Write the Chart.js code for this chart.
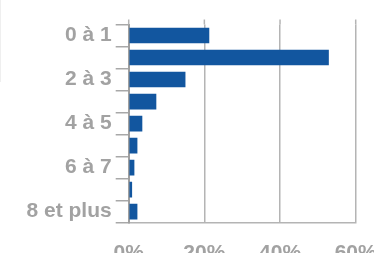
<!DOCTYPE html>
<html>
<head>
<meta charset="utf-8">
<script src="https://cdn.jsdelivr.net/npm/chart.js@4"></script>
<style>
    html, body { margin: 0; padding: 0; background: #fff; overflow: hidden; }
    #wrap { position: relative; width: 374px; height: 253px; }
    #edge { position: absolute; left: 0; top: 0; width: 1px; height: 82px; background: #efefef; }
</style>
</head>
<body>
<div id="wrap">
    <canvas id="chart" width="374" height="253"></canvas>
    <div id="edge"></div>
</div>
<script>
// Data
const categories = ['0 à 1', '1 à 2', '2 à 3', '3 à 4', '4 à 5', '5 à 6', '6 à 7', '7 à 8', '8 et plus'];
const shares = [21.3, 52.9, 15.0, 7.3, 3.6, 2.3, 1.5, 0.9, 2.3];
const xTicks = [0, 20, 40, 60];

const labelGray = '#a2a2a2';
const lineGray = '#b4b4b4';
const font = { family: '"Liberation Sans", Arial, sans-serif', size: 21, weight: 'bold' };

// vertical grid lines poke a little above the plot
const gridTopPlugin = {
    id: 'gridTop',
    beforeDatasetsDraw(chart) {
        const { ctx, chartArea, scales } = chart;
        ctx.save();
        ctx.strokeStyle = lineGray;
        ctx.lineWidth = 1.5;
        xTicks.forEach(v => {
            const x = scales.x.getPixelForValue(v);
            ctx.beginPath();
            ctx.moveTo(x, chartArea.top - 5);
            ctx.lineTo(x, chartArea.top);
            ctx.stroke();
        });
        ctx.restore();
    }
};

new Chart(document.getElementById('chart'), {
    type: 'bar',
    data: {
        labels: categories,
        datasets: [{
            data: shares,
            backgroundColor: '#12569f',
            borderWidth: 0,
            categoryPercentage: 1,
            barPercentage: 0.71
        }]
    },
    options: {
        indexAxis: 'y',
        responsive: false,
        animation: false,
        layout: { padding: { top: 24.5, left: 0, right: 0, bottom: 0 } },
        plugins: { legend: { display: false }, tooltip: { enabled: false } },
        scales: {
            x: {
                min: 0,
                max: 60,
                afterBuildTicks: s => { s.ticks = xTicks.map(v => ({ value: v })); },
                afterFit: s => { s.height = 30.3; s.paddingLeft = 0; s.paddingRight = 18.3; },
                grid: { color: lineGray, lineWidth: 1.5, drawTicks: false },
                border: { display: true, color: lineGray, width: 1.5 },
                ticks: { color: labelGray, font: font, padding: 17.5, callback: v => v + '%' }
            },
            y: {
                afterFit: s => { s.width = 128.7; s.paddingTop = 0; s.paddingBottom = 0; },
                grid: { drawOnChartArea: false, drawTicks: true, tickLength: 13, color: '#a8a8a8', lineWidth: 1.5 },
                border: { display: true, color: '#a0a0a0', width: 2 },
                ticks: {
                    color: labelGray,
                    font: font,
                    padding: 4,
                    autoSkip: false,
                    callback: (v, i) => (i % 2 ? '' : categories[i])
                }
            }
        }
    },
    plugins: [gridTopPlugin]
});
</script>
</body>
</html>
